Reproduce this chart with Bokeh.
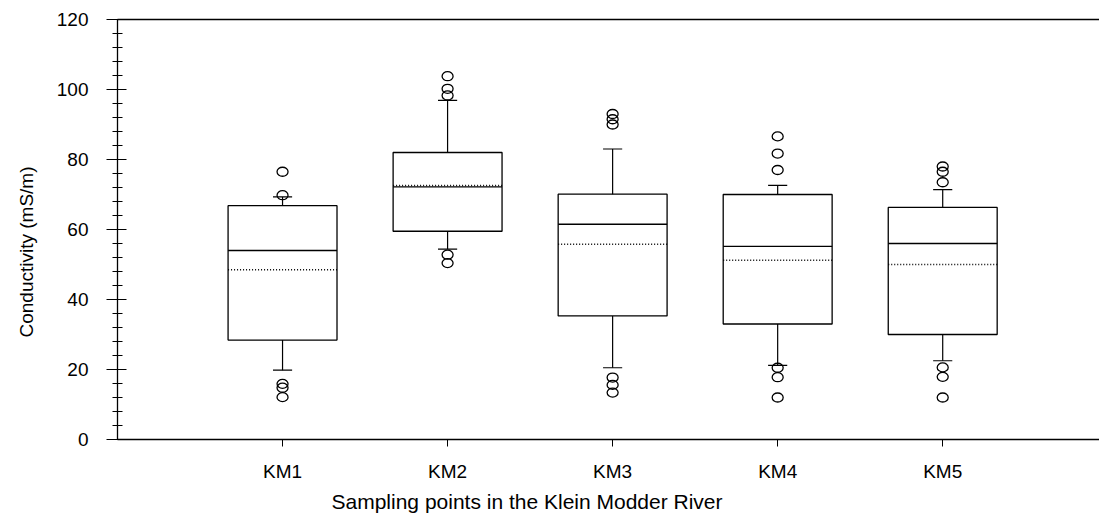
import numpy as np
from bokeh.plotting import figure
from bokeh.models import Range1d, FixedTicker, SingleIntervalTicker, LinearAxis, Title
from bokeh.embed import file_html
from bokeh.resources import INLINE

# ---- data ----
categories = ["KM1", "KM2", "KM3", "KM4", "KM5"]
q1 = [28.4, 59.5, 35.3, 33.0, 30.0]
median = [54.0, 72.2, 61.5, 55.2, 56.0]
mean = [48.5, 72.6, 55.8, 51.2, 50.0]
q3 = [66.8, 82.0, 70.1, 70.0, 66.3]
whisker_low = [19.8, 54.4, 20.5, 21.2, 22.5]
whisker_high = [69.3, 96.9, 83.0, 72.6, 71.4]
outlier_cat = ["KM1", "KM1", "KM1", "KM1", "KM1",
               "KM2", "KM2", "KM2", "KM2", "KM2",
               "KM3", "KM3", "KM3", "KM3", "KM3", "KM3",
               "KM4", "KM4", "KM4", "KM4", "KM4", "KM4",
               "KM5", "KM5", "KM5", "KM5", "KM5", "KM5"]
outlier_val = [76.5, 69.8, 15.9, 14.8, 12.1,
               103.8, 100.2, 98.3, 52.8, 50.4,
               93.0, 91.5, 90.0, 17.7, 15.6, 13.4,
               86.6, 81.7, 77.0, 20.5, 17.8, 12.0,
               78.0, 76.5, 73.5, 20.6, 17.9, 12.0]
x_title = "Sampling points in the Klein Modder River"
y_title = "Conductivity (mS/m)"

FONT = "Liberation Sans"
pos = np.arange(1, len(categories) + 1, dtype=float)
cat_pos = {c: i + 1 for i, c in enumerate(categories)}
out_x = [cat_pos[c] for c in outlier_cat]
half = 0.33
cap = 0.058

p = figure(width=1099, height=519, output_backend="svg", toolbar_location=None,
           x_range=Range1d(0, 5.95), y_range=Range1d(0, 120),
           min_border_left=117, min_border_right=0, min_border_top=19,
           min_border_bottom=80)
p.grid.visible = False
p.outline_line_color = None
p.background_fill_color = "white"
p.border_fill_color = "white"

# boxes
p.vbar(x=pos, width=2 * half, bottom=q1, top=q3, fill_color="white",
       line_color="black", line_width=1.3)
# median
p.segment(x0=pos - half, x1=pos + half, y0=median, y1=median,
          line_color="black", line_width=1.3)
# mean (dotted)
p.segment(x0=pos - half, x1=pos + half, y0=mean, y1=mean,
          line_color="black", line_width=1.5, line_dash="1 2")
# whiskers
p.segment(x0=pos, x1=pos, y0=q3, y1=whisker_high, line_color="black", line_width=1.2)
p.segment(x0=pos, x1=pos, y0=q1, y1=whisker_low, line_color="black", line_width=1.2)
p.segment(x0=pos - cap, x1=pos + cap, y0=whisker_high, y1=whisker_high,
          line_color="black", line_width=1.2)
p.segment(x0=pos - cap, x1=pos + cap, y0=whisker_low, y1=whisker_low,
          line_color="black", line_width=1.2)
# outliers
p.ellipse(x=out_x, y=outlier_val, width=11, height=9, width_units="screen",
          height_units="screen", fill_color=None, line_color="black", line_width=1.3)

# y axis
ya = p.yaxis[0]
ya.ticker = SingleIntervalTicker(interval=20, num_minor_ticks=5)
ya.major_label_text_font = FONT
ya.major_label_text_font_size = "19px"
ya.major_label_text_color = "black"
ya.major_label_standoff = 18
ya.major_tick_in = 9
ya.major_tick_out = 11
ya.minor_tick_in = 5
ya.minor_tick_out = 5
ya.axis_line_color = "black"
ya.axis_line_width = 1.3
ya.major_tick_line_width = 1.2
ya.minor_tick_line_width = 1.0

# x axis
xa = p.xaxis[0]
xa.ticker = FixedTicker(ticks=list(pos))
xa.major_label_overrides = {i + 1: c for i, c in enumerate(categories)}
xa.major_label_text_font = FONT
xa.major_label_text_font_size = "19px"
xa.major_label_text_color = "black"
xa.major_label_standoff = 14
xa.major_tick_in = 0
xa.major_tick_out = 7
xa.minor_tick_line_color = None
xa.axis_line_color = "black"
xa.axis_line_width = 1.3

# top border line
top = LinearAxis(ticker=FixedTicker(ticks=[]), major_label_text_font_size="0px",
                 major_tick_line_color=None, minor_tick_line_color=None,
                 axis_line_color="black", axis_line_width=1.3)
p.add_layout(top, "above")

# axis titles (off-centre as in the reference)
p.add_layout(Title(text=y_title, align="left", offset=102, vertical_align="top",
                   standoff=30, text_font=FONT, text_font_size="19px",
                   text_font_style="normal", text_color="black"), "left")
p.add_layout(Title(text=x_title, align="left", offset=214, vertical_align="top",
                   standoff=10, text_font=FONT, text_font_size="21px",
                   text_font_style="normal", text_color="black"), "below")

open("out.html", "w").write(file_html(p, INLINE))
